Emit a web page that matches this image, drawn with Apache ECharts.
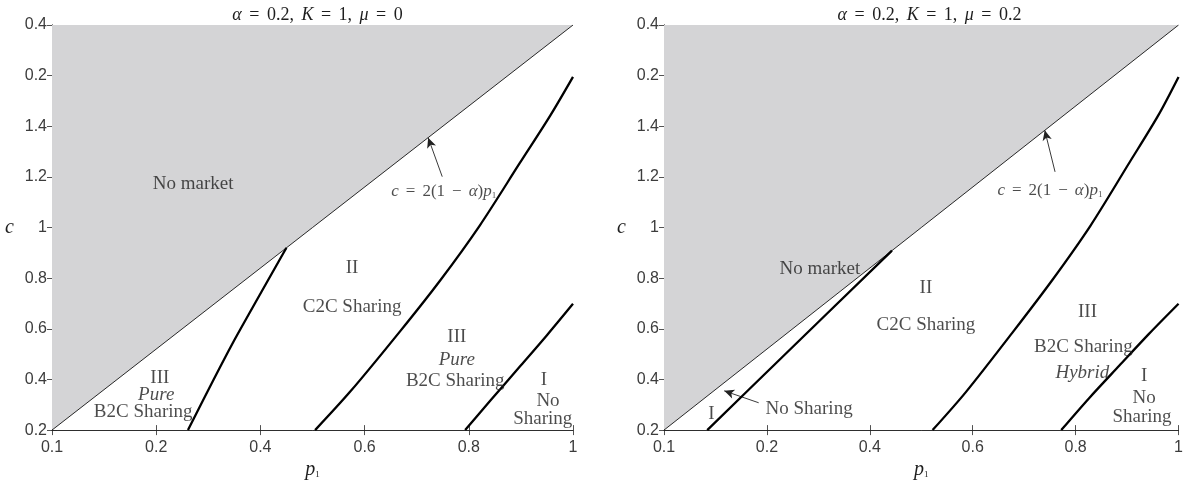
<!DOCTYPE html>
<html>
<head>
<meta charset="utf-8">
<script src="https://cdn.jsdelivr.net/npm/echarts@6/dist/echarts.min.js"></script>
<style>
html,body{margin:0;padding:0;background:#fff;}
#chart{width:1186px;height:485px;}
</style>
</head>
<body>
<div id="chart"></div>
<script>
// ---------- data ----------
const xTickLabels = ['0.1', '0.2', '0.4', '0.6', '0.8', '1'];
const yTickLabels = ['0.2', '0.4', '0.6', '0.8', '1', '1.2', '1.4', '0.2', '0.4'];
const panelTitles = ['α = 0.2, K = 1, μ = 0', 'α = 0.2, K = 1, μ = 0.2'];

// boundary c = 2(1-alpha) p1 (same in both panels)
const boundary = [[0, 0], [1, 1.6]];

// left panel (mu = 0)
const leftCurveA = [[0.261, 0], [0.347, 0.344], [0.45, 0.72]];
const leftCurveB = [[0.505, 0], [0.572, 0.151], [0.668, 0.390], [0.745, 0.591], [0.821, 0.808], [0.898, 1.055], [0.956, 1.241], [1.0, 1.395]];
const leftCurveC = [[0.793, 0], [0.841, 0.116], [0.898, 0.251], [0.950, 0.375], [1.0, 0.499]];

// right panel (mu = 0.2)
const rightCurveA = [[0.084, 0], [0.219, 0.267], [0.443, 0.709]];
const rightCurveB = [[0.522, 0], [0.587, 0.151], [0.679, 0.390], [0.754, 0.591], [0.829, 0.808], [0.904, 1.055], [0.960, 1.241], [1.0, 1.395]];
const rightCurveC = [[0.772, 0], [0.827, 0.128], [0.885, 0.255], [0.942, 0.379], [1.0, 0.499]];

// region annotations
const leftTexts = [
  {t: 'No market', p: [0.271, 0.970]},
  {t: 'II', p: [0.576, 0.642]},
  {t: 'C2C Sharing', p: [0.576, 0.487]},
  {t: 'III', p: [0.777, 0.367]},
  {t: 'Pure', p: [0.777, 0.275], it: true},
  {t: 'B2C Sharing', p: [0.774, 0.193]},
  {t: 'I', p: [0.944, 0.197]},
  {t: 'No', p: [0.952, 0.116]},
  {t: 'Sharing', p: [0.942, 0.043]},
  {t: 'III', p: [0.207, 0.205]},
  {t: 'Pure', p: [0.200, 0.139], it: true},
  {t: 'B2C Sharing', p: [0.175, 0.070]}
];
const rightTexts = [
  {t: 'No market', p: [0.303, 0.638]},
  {t: 'II', p: [0.509, 0.561]},
  {t: 'C2C Sharing', p: [0.509, 0.414]},
  {t: 'III', p: [0.823, 0.468]},
  {t: 'B2C Sharing', p: [0.815, 0.329]},
  {t: 'Hybrid', p: [0.813, 0.224], it: true},
  {t: 'I', p: [0.933, 0.213]},
  {t: 'No', p: [0.933, 0.128]},
  {t: 'Sharing', p: [0.929, 0.050]},
  {t: 'I', p: [0.092, 0.062]},
  {t: 'No Sharing', p: [0.282, 0.085]}
];
const boundaryNote = 'c = 2(1 − α)p1';
const leftNoteAt = [0.752, 0.943];
const rightNoteAt = [0.750, 0.947];
const leftArrows = [[[0.749, 1.001], [0.722, 1.155]]];
const rightArrows = [[[0.760, 1.020], [0.740, 1.184]], [[0.184, 0.108], [0.117, 0.155]]];

// ---------- styling ----------
const SERIF = 'Liberation Serif';
const SANS = 'Liberation Sans';
const TXT = '#1e1e1e';
const AX = '#262626';
const FILL = '#d4d4d6';

function richSet(size, spaceW) {
  return {
    r: {fontFamily: SERIF, fontSize: size, fontWeight: 'normal', color: TXT},
    i: {fontFamily: SERIF, fontSize: size, fontWeight: 'normal', fontStyle: 'italic', color: TXT},
    sp: {fontFamily: SERIF, fontSize: size, fontWeight: 'normal', color: TXT, width: spaceW},
    s: {fontFamily: SERIF, fontSize: Math.round(size * 0.5), fontWeight: 'normal', color: TXT,
        verticalAlign: 'bottom', padding: [Math.round(size * 0.55), 0, 0, 0]}
  };
}
const richTitle = richSet(18, 7.5);
const richNote = richSet(17, 7);

function mathify(str) {
  let out = '';
  for (const ch of str) {
    if ('αKμcp'.includes(ch)) out += '{i|' + ch + '}';
    else if (ch === ' ') out += '{sp|\u00a0}';
    else out += '{r|' + ch + '}';
  }
  return out;
}
function noteText(str) {
  const base = str.slice(0, -1);
  return mathify(base) + '{s|' + str.slice(-1) + '}';
}

const grids = [
  {left: 52, width: 521, top: 25, height: 414},
  {left: 664, width: 521, top: 25, height: 414}
];

const xAxes = [], yAxes = [];
for (let g = 0; g < 2; g++) {
  xAxes.push({
    gridIndex: g, type: 'value', min: 0, max: 1, interval: 0.2, position: 'bottom',
    axisLine: {show: true, lineStyle: {color: AX, width: 0.8}},
    axisTick: {show: true, inside: true, length: 5, lineStyle: {color: AX, width: 0.8}},
    axisLabel: {show: true, color: '#3c3c3c', fontFamily: SANS, fontSize: 16, margin: 9,
      showMinLabel: true, showMaxLabel: true,
      formatter: (v, i) => xTickLabels[i]},
    splitLine: {show: false},
    name: '{i|p}{s|1}', nameLocation: 'middle', nameGap: 24,
    nameTextStyle: {rich: {
      i: {fontFamily: SERIF, fontStyle: 'italic', fontSize: 20, color: TXT},
      s: {fontFamily: SERIF, fontSize: 9, color: TXT, padding: [10, 0, 0, 0]}
    }}
  });
  xAxes.push({
    gridIndex: g, type: 'value', min: 0, max: 1, interval: 0.2, position: 'top',
    axisLine: {show: true, lineStyle: {color: AX, width: 0.8}},
    axisTick: {show: true, inside: true, length: 5, lineStyle: {color: AX, width: 0.8}},
    axisLabel: {show: false}, splitLine: {show: false}
  });
  yAxes.push({
    gridIndex: g, type: 'value', min: 0, max: 1.6, interval: 0.2, position: 'left',
    axisLine: {show: true, lineStyle: {color: AX, width: 0.8}},
    axisTick: {show: true, inside: true, length: 5, lineStyle: {color: AX, width: 0.8}},
    axisLabel: {show: true, color: '#3c3c3c', fontFamily: SANS, fontSize: 16, margin: 5,
      showMinLabel: true, showMaxLabel: true,
      formatter: (v, i) => yTickLabels[i]},
    splitLine: {show: false},
    name: 'c', nameLocation: 'middle', nameGap: 38, nameRotate: 0,
    nameTextStyle: {fontFamily: SERIF, fontStyle: 'italic', fontSize: 20, color: TXT, padding: [0, 0, 26, 0]}
  });
  yAxes.push({
    gridIndex: g, type: 'value', min: 0, max: 1.6, interval: 0.2, position: 'right',
    axisLine: {show: true, lineStyle: {color: AX, width: 0.8}},
    axisTick: {show: true, inside: true, length: 5, lineStyle: {color: AX, width: 0.8}},
    axisLabel: {show: false}, splitLine: {show: false}
  });
}

function curve(g, data) {
  return {
    type: 'line', xAxisIndex: 2 * g, yAxisIndex: 2 * g, data: data,
    showSymbol: false, smooth: 0.3, silent: true, z: 5,
    lineStyle: {color: '#000', width: 2.3}
  };
}
function boundarySeries(g, arrows) {
  return {
    type: 'line', xAxisIndex: 2 * g, yAxisIndex: 2 * g, data: boundary,
    showSymbol: false, silent: true, z: 3,
    lineStyle: {color: '#111', width: 0.9},
    areaStyle: {origin: 'end', color: FILL, opacity: 1},
    markLine: {
      silent: true, symbol: ['none', 'arrow'], symbolSize: [7, 10],
      lineStyle: {color: '#222', width: 0.9, type: 'solid'},
      label: {show: false},
      data: arrows.map(a => [{coord: a[0]}, {coord: a[1]}])
    }
  };
}
function textSeries(g, items, noteAt) {
  const data = items.map(o => ({
    value: o.p,
    label: {formatter: o.it ? '{it|' + o.t + '}' : '{n|' + o.t + '}'}
  }));
  data.push({value: noteAt, label: {formatter: noteText(boundaryNote)}});
  return {
    type: 'scatter', xAxisIndex: 2 * g, yAxisIndex: 2 * g, symbolSize: 0, silent: true, z: 10,
    data: data,
    label: {show: true, position: 'inside', color: TXT,
      rich: {
        n: {fontFamily: SERIF, fontSize: 19, color: TXT},
        it: {fontFamily: SERIF, fontSize: 19, fontStyle: 'italic', color: TXT},
        r: richNote.r, i: richNote.i, sp: richNote.sp, s: richNote.s
      }}
  };
}

const option = {
  animation: false,
  backgroundColor: '#fff',
  title: panelTitles.map((t, g) => ({
    text: mathify(t),
    left: grids[g].left + grids[g].width / 2, top: 1, textAlign: 'center',
    textStyle: {fontWeight: 'normal', rich: richTitle}
  })),
  grid: grids,
  xAxis: xAxes,
  yAxis: yAxes,
  series: [
    boundarySeries(0, leftArrows),
    curve(0, leftCurveA), curve(0, leftCurveB), curve(0, leftCurveC),
    textSeries(0, leftTexts, leftNoteAt),
    boundarySeries(1, rightArrows),
    curve(1, rightCurveA), curve(1, rightCurveB), curve(1, rightCurveC),
    textSeries(1, rightTexts, rightNoteAt)
  ]
};

const chart = echarts.init(document.getElementById('chart'), null, {renderer: 'canvas'});
chart.setOption(option);
</script>
</body>
</html>
